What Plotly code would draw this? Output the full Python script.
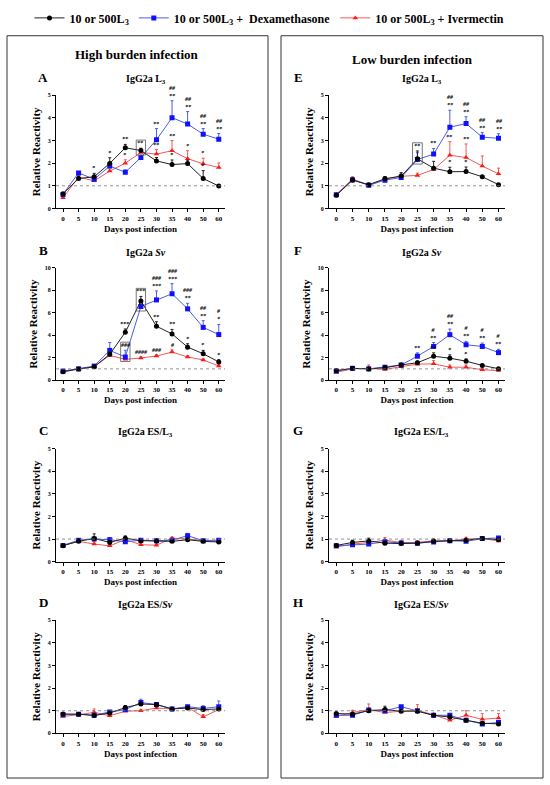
import plotly.graph_objects as go

days = ["0", "5", "10", "15", "20", "25", "30", "35", "40", "50", "60"]

# A - high burden, IgG2a L3
a_inf = [0.65, 1.32, 1.40, 1.99, 2.68, 2.56, 2.10, 1.94, 1.98, 1.32, 0.99]
a_inf_err = [0.05, 0.10, 0.15, 0.25, 0.15, 0.10, 0.15, 0.20, 0.15, 0.35, 0.05]
a_dex = [0.62, 1.57, 1.29, 1.87, 1.60, 2.25, 3.03, 4.01, 3.73, 3.28, 3.06]
a_dex_err = [0.05, 0.05, 0.10, 0.15, 0.10, 0.10, 0.50, 0.75, 0.55, 0.25, 0.25]
a_ive = [0.47, 1.38, 1.22, 1.65, 2.00, 2.47, 2.40, 2.55, 2.20, 1.97, 1.81]
a_ive_err = [0.05, 0.10, 0.10, 0.10, 0.15, 0.10, 0.20, 0.45, 0.35, 0.25, 0.20]
a_marks = [("inf", 2, "*"), ("inf", 3, "*"), ("inf", 4, "**"), ("inf", 5, "**"),
           ("inf", 7, "*"), ("inf", 9, "*"), ("ive", 4, "*"), ("ive", 6, "**"),
           ("ive", 7, "**"), ("ive", 8, "*"), ("ive", 9, "*"), ("dex", 6, "**"),
           ("dex", 7, "##<br>**"), ("dex", 8, "##<br>**"), ("dex", 9, "##<br>**"),
           ("dex", 10, "##<br>**")]
a_boxes = [(("inf",), 5)]

# B - high burden, IgG2a Sv
b_inf = [0.74, 1.00, 1.18, 2.30, 4.26, 7.06, 4.80, 4.12, 2.94, 2.35, 1.62]
b_inf_err = [0.05, 0.05, 0.10, 0.20, 0.30, 0.40, 0.40, 0.40, 0.30, 0.30, 0.20]
b_dex = [0.80, 1.00, 1.25, 2.65, 2.06, 6.56, 7.15, 7.70, 6.35, 4.70, 4.06]
b_dex_err = [0.05, 0.05, 0.10, 0.70, 0.60, 0.30, 0.80, 0.90, 0.50, 0.60, 0.90]
b_ive = [0.75, 1.00, 1.20, 2.20, 1.85, 1.97, 2.15, 2.50, 2.06, 1.80, 1.26]
b_ive_err = [0.05, 0.05, 0.10, 0.10, 0.10, 0.10, 0.10, 0.20, 0.10, 0.10, 0.10]
b_marks = [("inf", 4, "***"), ("dex", 4, "###"), ("inf", 5, "***"), ("ive", 5, "####"),
           ("ive", 6, "###"), ("ive", 7, "#"), ("inf", 6, "**"), ("inf", 7, "**"),
           ("inf", 8, "*"), ("inf", 9, "*"), ("inf", 10, "*"),
           ("dex", 6, "###<br>***"), ("dex", 7, "###<br>***"), ("dex", 8, "###<br>**"),
           ("dex", 9, "##<br>**"), ("dex", 10, "#<br>*")]
b_boxes = [(("dex",), 4), (("inf", "dex"), 5)]

# C - high burden, IgG2a ES/L3
c_inf = [0.71, 0.90, 1.03, 0.85, 1.04, 0.93, 0.91, 0.90, 0.97, 0.90, 0.87]
c_inf_err = [0.03, 0.08, 0.20, 0.10, 0.10, 0.05, 0.05, 0.05, 0.05, 0.05, 0.05]
c_dex = [0.72, 0.95, 1.00, 0.97, 0.88, 0.95, 0.93, 0.95, 1.15, 0.93, 0.95]
c_dex_err = [0.03, 0.05, 0.05, 0.10, 0.05, 0.05, 0.05, 0.05, 0.10, 0.05, 0.05]
c_ive = [0.72, 0.90, 0.78, 0.70, 0.98, 0.75, 0.73, 1.04, 1.00, 0.93, 0.90]
c_ive_err = [0.03, 0.05, 0.10, 0.05, 0.05, 0.05, 0.05, 0.05, 0.05, 0.05, 0.05]

# D - high burden, IgG2a ES/Sv
d_inf = [0.86, 0.85, 0.79, 0.90, 1.14, 1.30, 1.27, 1.08, 1.12, 1.05, 1.08]
d_inf_err = [0.05, 0.05, 0.05, 0.05, 0.08, 0.08, 0.08, 0.05, 0.05, 0.05, 0.05]
d_dex = [0.82, 0.85, 0.80, 0.95, 1.05, 1.36, 1.28, 1.08, 1.18, 1.10, 1.18]
d_dex_err = [0.05, 0.05, 0.05, 0.05, 0.08, 0.15, 0.08, 0.05, 0.05, 0.12, 0.25]
d_ive = [0.75, 0.82, 0.93, 0.78, 0.98, 1.00, 1.12, 1.08, 1.15, 0.73, 1.05]
d_ive_err = [0.05, 0.05, 0.15, 0.05, 0.05, 0.05, 0.05, 0.05, 0.05, 0.10, 0.05]

# E - low burden, IgG2a L3
e_inf = [0.58, 1.25, 1.05, 1.31, 1.43, 2.19, 1.78, 1.62, 1.63, 1.40, 1.05]
e_inf_err = [0.05, 0.10, 0.05, 0.10, 0.15, 0.35, 0.30, 0.20, 0.20, 0.05, 0.05]
e_dex = [0.60, 1.27, 1.02, 1.25, 1.37, 2.16, 2.40, 3.59, 3.75, 3.15, 3.10]
e_dex_err = [0.05, 0.05, 0.05, 0.05, 0.10, 0.30, 0.25, 0.75, 0.30, 0.20, 0.20]
e_ive = [0.62, 1.30, 1.03, 1.30, 1.42, 1.46, 1.72, 2.35, 2.25, 1.87, 1.53]
e_ive_err = [0.05, 0.10, 0.05, 0.10, 0.10, 0.10, 0.10, 0.60, 0.60, 0.45, 0.25]
e_marks = [("inf", 5, "**"), ("dex", 6, "**"), ("inf", 7, "*"), ("inf", 8, "*"),
           ("ive", 7, "**"), ("ive", 8, "**"), ("dex", 7, "##<br>**"),
           ("dex", 8, "##<br>**"), ("dex", 9, "##<br>**"), ("dex", 10, "##<br>**")]
e_boxes = [(("inf", "dex"), 5)]

# F - low burden, IgG2a Sv
f_inf = [0.85, 1.05, 1.00, 1.10, 1.35, 1.55, 2.13, 1.95, 1.69, 1.31, 1.02]
f_inf_err = [0.05, 0.05, 0.05, 0.05, 0.10, 0.15, 0.30, 0.30, 0.20, 0.10, 0.10]
f_dex = [0.80, 1.05, 1.00, 1.15, 1.35, 2.13, 3.00, 4.05, 3.15, 3.00, 2.45]
f_dex_err = [0.05, 0.05, 0.05, 0.10, 0.10, 0.30, 0.35, 0.50, 0.30, 0.30, 0.30]
f_ive = [0.70, 1.00, 1.05, 0.95, 1.20, 1.42, 1.45, 1.15, 1.15, 0.92, 0.85]
f_ive_err = [0.05, 0.10, 0.30, 0.20, 0.10, 0.20, 0.30, 0.20, 0.20, 0.10, 0.10]
f_marks = [("dex", 5, "**"), ("dex", 6, "#<br>**"), ("dex", 7, "##<br>**"),
           ("dex", 8, "#<br>**"), ("dex", 9, "#<br>**"), ("dex", 10, "#<br>**"),
           ("inf", 6, "**"), ("inf", 7, "*"), ("inf", 8, "*")]

# G - low burden, IgG2a ES/L3
g_inf = [0.72, 0.85, 0.92, 0.82, 0.80, 0.82, 0.90, 0.93, 0.95, 1.03, 0.97]
g_inf_err = [0.03, 0.10, 0.12, 0.08, 0.05, 0.05, 0.05, 0.05, 0.05, 0.05, 0.05]
g_dex = [0.70, 0.75, 0.78, 0.88, 0.83, 0.82, 0.87, 0.93, 0.90, 1.02, 1.05]
g_dex_err = [0.03, 0.05, 0.05, 0.05, 0.05, 0.05, 0.05, 0.05, 0.05, 0.05, 0.05]
g_ive = [0.65, 0.78, 0.85, 0.95, 0.85, 0.85, 0.93, 0.92, 1.00, 1.02, 0.92]
g_ive_err = [0.03, 0.05, 0.10, 0.12, 0.10, 0.08, 0.10, 0.05, 0.08, 0.05, 0.05]

# H - low burden, IgG2a ES/Sv
h_inf = [0.88, 0.85, 1.00, 1.05, 0.98, 0.98, 0.80, 0.72, 0.58, 0.45, 0.42]
h_inf_err = [0.05, 0.05, 0.08, 0.15, 0.05, 0.05, 0.05, 0.05, 0.05, 0.05, 0.05]
h_dex = [0.80, 0.80, 1.03, 1.00, 1.18, 1.00, 0.80, 0.80, 0.58, 0.42, 0.48]
h_dex_err = [0.05, 0.05, 0.05, 0.05, 0.05, 0.05, 0.05, 0.05, 0.05, 0.05, 0.05]
h_ive = [0.75, 0.92, 1.05, 0.92, 0.98, 1.02, 0.82, 0.58, 0.80, 0.62, 0.68]
h_ive_err = [0.05, 0.10, 0.25, 0.10, 0.05, 0.25, 0.05, 0.10, 0.20, 0.25, 0.20]

legend_names = ["10 or 500L<sub>3</sub>", "10 or 500L<sub>3</sub> +  Dexamethasone",
                "10 or 500L<sub>3</sub> + Ivermectin"]

W, H = 550, 785
FONT = "Liberation Serif"


def fx(p):
    return p / W


def fy(p):
    return 1 - p / H


cols = [(56, 225), (329, 505)]
rows = [(93, 207), (267, 380), (449, 563), (622, 736)]
letter_x = [43, 298]

panels = [
    ("A", "IgG2a L<sub>3</sub>", 0, 0, 5, (a_inf, a_inf_err, a_dex, a_dex_err, a_ive, a_ive_err), a_marks, a_boxes),
    ("B", "IgG2a <i>Sv</i>", 0, 1, 10, (b_inf, b_inf_err, b_dex, b_dex_err, b_ive, b_ive_err), b_marks, b_boxes),
    ("C", "IgG2a ES/L<sub>3</sub>", 0, 2, 5, (c_inf, c_inf_err, c_dex, c_dex_err, c_ive, c_ive_err), [], []),
    ("D", "IgG2a ES/<i>Sv</i>", 0, 3, 5, (d_inf, d_inf_err, d_dex, d_dex_err, d_ive, d_ive_err), [], []),
    ("E", "IgG2a L<sub>3</sub>", 1, 0, 5, (e_inf, e_inf_err, e_dex, e_dex_err, e_ive, e_ive_err), e_marks, e_boxes),
    ("F", "IgG2a <i>Sv</i>", 1, 1, 10, (f_inf, f_inf_err, f_dex, f_dex_err, f_ive, f_ive_err), f_marks, []),
    ("G", "IgG2a ES/L<sub>3</sub>", 1, 2, 5, (g_inf, g_inf_err, g_dex, g_dex_err, g_ive, g_ive_err), [], []),
    ("H", "IgG2a ES/<i>Sv</i>", 1, 3, 5, (h_inf, h_inf_err, h_dex, h_dex_err, h_ive, h_ive_err), [], []),
]

styles = {
    "inf": dict(color="#000000", line="#222222", symbol="circle", rank=1),
    "dex": dict(color="#1010ff", line="#4a5ee8", symbol="square", rank=2),
    "ive": dict(color="#ff1a1a", line="#f05a5a", symbol="triangle-up", rank=3),
}

fig = go.Figure()
layout = dict(width=W, height=H, margin=dict(l=0, r=0, t=0, b=0),
              plot_bgcolor="white", paper_bgcolor="white",
              font=dict(family=FONT, color="black"))
annotations = []
shapes = []

for i, (letter, title, col, row, ymax, data, marks, boxes) in enumerate(panels):
    n = i + 1
    sx = "" if n == 1 else str(n)
    inf, inf_err, dex, dex_err, ive, ive_err = data
    series = {"inf": (inf, inf_err, 0), "dex": (dex, dex_err, 1), "ive": (ive, ive_err, 2)}
    for key in ["ive", "dex", "inf"]:
        vals, errs, li = series[key]
        st = styles[key]
        fig.add_trace(go.Scatter(
            x=days, y=vals, mode="lines+markers", name=legend_names[li],
            legendrank=st["rank"], showlegend=(n == 1),
            line=dict(color=st["line"], width=1),
            marker=dict(color=st["color"], symbol=st["symbol"], size=5),
            error_y=dict(type="data", array=errs, arrayminus=[0] * len(errs),
                         symmetric=False, color=st["line"], thickness=1, width=1.5),
            xaxis="x" + sx, yaxis="y" + sx))

    x0, x1 = cols[col]
    y0, y1 = rows[row]
    layout["xaxis" + sx] = dict(
        domain=[fx(x0), fx(x1)], anchor="y" + sx, type="category", range=[-0.45, 10.4],
        showline=True, linecolor="black", linewidth=1, ticks="outside", ticklen=3,
        tickcolor="black", showgrid=False, zeroline=False,
        tickfont=dict(family=FONT, size=7, weight="bold"),
        title=dict(text="Days post infection", standoff=3,
                   font=dict(family=FONT, size=9, weight="bold")))
    layout["yaxis" + sx] = dict(
        domain=[fy(y1), fy(y0)], anchor="x" + sx, range=[0, ymax], dtick=ymax / 5,
        showline=True, linecolor="black", linewidth=1, ticks="outside", ticklen=3,
        tickcolor="black", showgrid=False, zeroline=False,
        tickfont=dict(family=FONT, size=6, weight="bold"),
        title=dict(text="Relative Reactivity", standoff=4,
                   font=dict(family=FONT, size=11, weight="bold")))

    # dotted reference line at 1
    shapes.append(dict(type="line", xref="x" + sx + " domain", yref="y" + sx,
                       x0=0, x1=1, y0=1, y1=1,
                       line=dict(color="#777777", width=0.8, dash="dot")))

    annotations.append(dict(text="<b>" + letter + "</b>", xref="paper", yref="paper",
                            x=fx(letter_x[col]), y=fy(y0 - 18), xanchor="center",
                            yanchor="middle", showarrow=False,
                            font=dict(family=FONT, size=13)))
    annotations.append(dict(text="<b>" + title + "</b>", xref="paper", yref="paper",
                            x=fx((x0 + x1) / 2 + 5), y=fy(y0 - 16), xanchor="center",
                            yanchor="middle", showarrow=False,
                            font=dict(family=FONT, size=10)))

    for key, idx, txt in marks:
        vals, errs, _ = series[key]
        annotations.append(dict(text="<b><i>" + txt + "</i></b>", x=idx,
                                y=vals[idx] + errs[idx], xref="x" + sx, yref="y" + sx,
                                xanchor="center", yanchor="bottom", showarrow=False,
                                font=dict(family=FONT, size=6, color="black")))

    for keys, idx in boxes:
        lo = min(series[k][0][idx] for k in keys)
        hi = max(series[k][0][idx] + series[k][1][idx] for k in keys)
        pad = ymax * 0.04
        shapes.append(dict(type="rect", xref="x" + sx, yref="y" + sx,
                           x0=idx - 0.3, x1=idx + 0.3, y0=lo - pad, y1=hi + pad * 1.8,
                           line=dict(color="#555555", width=0.8)))

# frames around the two groups
shapes.append(dict(type="rect", xref="paper", yref="paper", x0=fx(7), x1=fx(268),
                   y0=fy(781), y1=fy(33), line=dict(color="#333333", width=1)))
shapes.append(dict(type="rect", xref="paper", yref="paper", x0=fx(281), x1=fx(543),
                   y0=fy(781), y1=fy(33), line=dict(color="#333333", width=1)))
annotations.append(dict(text="<b>High burden infection</b>", xref="paper", yref="paper",
                        x=fx(137), y=fy(52), xanchor="center", yanchor="middle",
                        showarrow=False, font=dict(family=FONT, size=13)))
annotations.append(dict(text="<b>Low burden infection</b>", xref="paper", yref="paper",
                        x=fx(412), y=fy(57), xanchor="center", yanchor="middle",
                        showarrow=False, font=dict(family=FONT, size=13)))

layout["annotations"] = annotations
layout["shapes"] = shapes
layout["legend"] = dict(orientation="h", x=0.49, xanchor="center", y=fy(15), yanchor="middle",
                        font=dict(family=FONT, size=12, weight="bold"),
                        itemwidth=30, tracegroupgap=0, bgcolor="rgba(0,0,0,0)")
fig.update_layout(**layout)

fig.write_html("out.html", config={"displayModeBar": False},
               post_script="document.body.style.margin='0px';")
